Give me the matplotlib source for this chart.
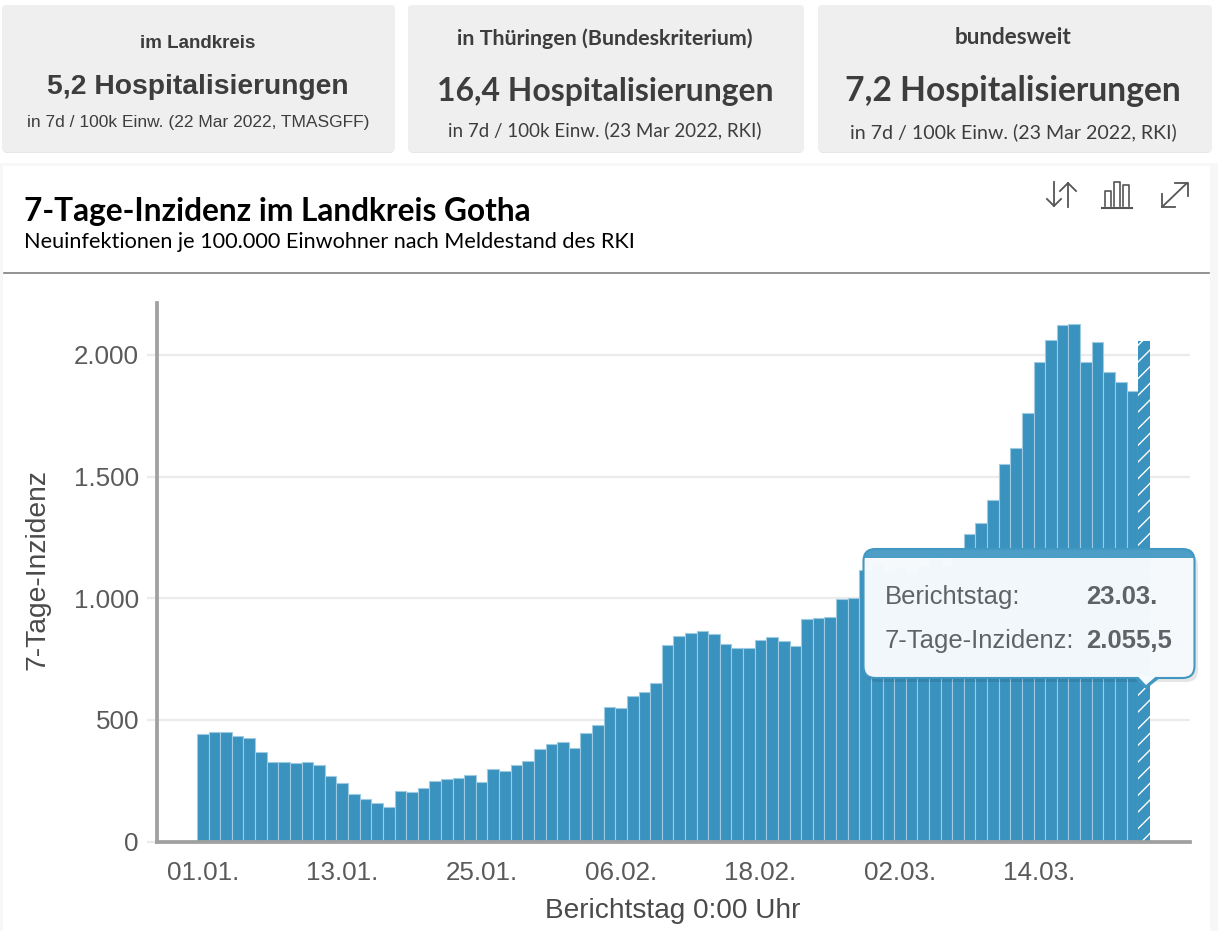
import matplotlib
matplotlib.use("Agg")
import matplotlib.pyplot as plt
from matplotlib.patches import FancyBboxPatch, Polygon, Rectangle
from matplotlib.ticker import FuncFormatter

# values, one bar per day from 01.01. on
inzidenz = [
    442, 451, 449, 433, 427, 368, 328, 326, 323, 326, 317, 271, 243, 195, 177, 157, 143,
    208, 204, 220, 249, 257, 261, 274, 246, 298, 291, 317, 330, 379, 400, 409, 385, 445,
    479, 555, 549, 600, 617, 651, 807, 844, 859, 865, 853, 813, 794, 796, 828, 842, 825,
    802, 914, 918, 923, 995, 1003, 1116, 1142, 1106, 1126, 1101, 1131, 1166, 1131, 1196,
    1264, 1309, 1405, 1551, 1618, 1762, 1971, 2063, 2122, 2126, 1971, 2052, 1931, 1888, 1850,
]
letzter_tag = 2055.5
xtick_pos = [0, 12, 24, 36, 48, 60, 72]
xtick_labels = ["01.01.", "13.01.", "25.01.", "06.02.", "18.02.", "02.03.", "14.03."]
ytick_vals = [0, 500, 1000, 1500, 2000]
ytick_labels = ["0", "500", "1.000", "1.500", "2.000"]

card_head = ["im Landkreis", "in Thüringen (Bundeskriterium)", "bundesweit"]
card_main = ["5,2 Hospitalisierungen", "16,4 Hospitalisierungen", "7,2 Hospitalisierungen"]
card_sub = [
    "in 7d / 100k Einw. (22 Mar 2022, TMASGFF)",
    "in 7d / 100k Einw. (23 Mar 2022, RKI)",
    "in 7d / 100k Einw. (23 Mar 2022, RKI)",
]

BLUE = "#3a92bf"
W, H = 1218, 931
plt.rcParams["hatch.linewidth"] = 1.0


def px(size):
    return size * 0.72


def pixel_axes(zorder):
    a = fig.add_axes([0, 0, 1, 1], zorder=zorder)
    a.set_xlim(0, W)
    a.set_ylim(H, 0)
    a.axis("off")
    a.patch.set_alpha(0)
    return a


fig = plt.figure(figsize=(W / 100, H / 100), dpi=100, facecolor="white")
bg = pixel_axes(0)
top = pixel_axes(2)

# page background and panel
bg.add_patch(Rectangle((0, 163), W, H, color="#f7f7f7", lw=0))
bg.add_patch(Rectangle((3, 166), 1207, H, color="white", lw=0))
bg.plot([4, 1209], [272.5, 272.5], color="#808080", lw=1.2)

# kpi cards
cards = [(2, 393), (408, 396), (818, 394)]
fonts = ["Liberation Sans", "Lato", "Lato"]
sizes = [(18.8, 28.2, 17.35), (21.4, 31.9, 18.8), (22.5, 33.6, 19.7)]
center_x = [198, 605, 1013]
head_y = [43, 39, 37]
main_y = [87, 91, 91]
sub_y = [123, 130, 132]
for i, (x0, w) in enumerate(cards):
    bg.add_patch(FancyBboxPatch((x0 + 1, 7), w - 2, 146, boxstyle="round,pad=0,rounding_size=4",
                                fc="#e6e6e6", ec="none"))
    bg.add_patch(FancyBboxPatch((x0, 5), w, 147, boxstyle="round,pad=0,rounding_size=4",
                                fc="#efefef", ec="none"))
    cx = center_x[i]
    bg.text(cx, head_y[i], card_head[i], family=fonts[i], fontweight="bold", fontsize=px(sizes[i][0]),
            color="#3d3d3d", ha="center", va="center")
    bg.text(cx, main_y[i], card_main[i], family=fonts[i], fontweight="bold", fontsize=px(sizes[i][1]),
            color="#3d3d3d", ha="center", va="center")
    bg.text(cx, sub_y[i], card_sub[i], family=fonts[i], fontsize=px(sizes[i][2]),
            color="#3d3d3d", ha="center", va="center")

# panel title
bg.text(24, 211, "7-Tage-Inzidenz im Landkreis Gotha", family="Lato", fontweight="bold",
        fontsize=px(31.6), color="black", ha="left", va="center")
bg.text(24, 242, "Neuinfektionen je 100.000 Einwohner nach Meldestand des RKI", family="Lato",
        fontsize=px(21.7), color="black", ha="left", va="center")

# panel icons
ICON = "#555555"
bg.plot([1054, 1054], [182, 206], color=ICON, lw=1.3)
bg.plot([1047, 1054, 1061], [199, 206, 199], color=ICON, lw=1.3)
bg.plot([1068, 1068], [183, 207], color=ICON, lw=1.3)
bg.plot([1060, 1068, 1076], [191, 183, 191], color=ICON, lw=1.3)
bg.plot([1102, 1132], [208, 208], color=ICON, lw=1.5)
for x0, y0 in [(1105, 191), (1114, 182), (1123, 185)]:
    bg.plot([x0, x0, x0 + 6, x0 + 6], [206, y0, y0, 206], color=ICON, lw=1.2)
bg.plot([1162, 1187], [207, 183], color=ICON, lw=1.3)
bg.plot([1175, 1188, 1188], [183, 183, 196], color=ICON, lw=1.3)
bg.plot([1162, 1162, 1175], [194, 207, 207], color=ICON, lw=1.3)

# chart
ax_l, ax_r, ax_t, ax_b = 157, 1190, 303, 841.7
ax = fig.add_axes([ax_l / W, 1 - ax_b / H, (ax_r - ax_l) / W, (ax_b - ax_t) / H], zorder=1)
ax.patch.set_alpha(0)
ax.set_xlim(-3.94, 84.96)
ax.set_ylim(0, 2213)

days = list(range(len(inzidenz)))
ax.bar(days, inzidenz, width=1, color=BLUE, edgecolor="#9fcbe2", linewidth=0.8, zorder=3)
ax.bar([len(inzidenz)], [letzter_tag], width=1, color=BLUE, edgecolor="white", hatch="//", linewidth=0, zorder=3)

ax.set_yticks(ytick_vals)
ax.yaxis.set_major_formatter(FuncFormatter(lambda v, _: ytick_labels[ytick_vals.index(int(v))]))
ax.set_xticks(xtick_pos, xtick_labels)
ax.grid(axis="y", color="#ebebeb", lw=1.6, zorder=0)
ax.set_axisbelow(True)
ax.tick_params(axis="y", length=7, width=1.6, color="#ebebeb", labelsize=px(26), labelcolor="#5a5a5a", pad=6)
ax.tick_params(axis="x", length=0, labelsize=px(26), labelcolor="#5a5a5a", pad=14)
for lab in ax.get_xticklabels() + ax.get_yticklabels():
    lab.set_family("Liberation Sans")
for s in ["top", "right"]:
    ax.spines[s].set_visible(False)
for s in ["left", "bottom"]:
    ax.spines[s].set_color("#a0a0a0")
    ax.spines[s].set_linewidth(2.7)
    ax.spines[s].set_zorder(5)
bg.text(38, 570, "7-Tage-Inzidenz", family="Liberation Sans", fontsize=px(28.3), color="#4a4a4a",
        rotation=90, ha="center", va="center")
bg.text(673, 911, "Berichtstag 0:00 Uhr", family="Liberation Sans", fontsize=px(28), color="#4a4a4a",
        ha="center", va="center")

# tooltip
TIP_BLUE = "#4097c2"
top.add_patch(FancyBboxPatch((866, 554), 332, 128, boxstyle="round,pad=0,rounding_size=12",
                             fc="#000000", ec="none", alpha=0.10))
body = FancyBboxPatch((863.5, 549), 331, 129, boxstyle="round,pad=0,rounding_size=12",
                      fc=(0.965, 0.982, 0.994, 0.98), ec=TIP_BLUE, lw=1.5)
top.add_patch(body)
header = FancyBboxPatch((863.5, 549), 331, 129, boxstyle="round,pad=0,rounding_size=12",
                        fc=TIP_BLUE, ec="none", alpha=0.93)
top.add_patch(header)
header.set_clip_path(Rectangle((860, 545), 340, 13, transform=top.transData))
top.add_patch(Polygon([(1133, 677), (1146, 689), (1161, 677)], fc=TIP_BLUE, ec="none"))
top.add_patch(Polygon([(1137, 675.5), (1146, 685), (1157, 675.5)], fc="#f5fafd", ec="none"))
TIP = "#5f6368"
top.text(885, 597, "Berichtstag:", family="Liberation Sans", fontsize=px(25.6), color=TIP, va="center")
top.text(885, 641, "7-Tage-Inzidenz:", family="Liberation Sans", fontsize=px(25.6), color=TIP, va="center")
top.text(1086, 597, "23.03.", family="Liberation Sans", fontweight="bold", fontsize=px(25.6), color=TIP, va="center")
top.text(1086, 641, "2.055,5", family="Liberation Sans", fontweight="bold", fontsize=px(25.6), color=TIP, va="center")

fig.savefig("out.png", dpi=100)
